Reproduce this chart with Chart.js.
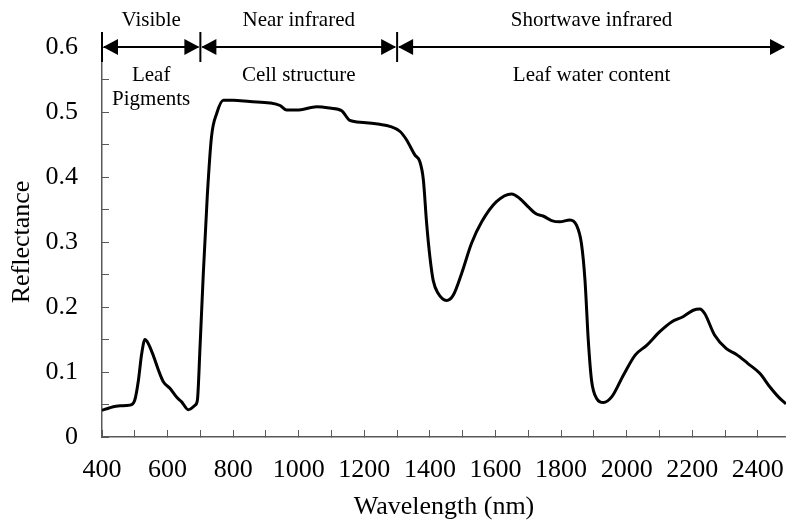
<!DOCTYPE html>
<html>
<head>
<meta charset="utf-8">
<script src="https://cdn.jsdelivr.net/npm/chart.js@4.4.0/dist/chart.umd.min.js"></script>
<style>
  html, body { margin: 0; padding: 0; background: #fff; overflow: hidden; }
  #wrap { width: 786px; height: 521px; }
</style>
</head>
<body>
<div id="wrap"><canvas id="c" width="786" height="521"></canvas></div>
<script>
// ---- Data ----
const wavelength = [400,424,455,485,500,511,521,531,541,556,572,587,607,628,643,663,684,691,699,709,721,734,750,770,800,851,912,943,963,994,1055,1095,1131,1156,1197,1247,1278,1309,1329,1354,1369,1380,1390,1400,1410,1425,1451,1471,1497,1527,1558,1603,1649,1674,1700,1725,1745,1771,1796,1827,1847,1862,1873,1883,1893,1909,1929,1955,1990,2026,2061,2101,2137,2172,2203,2223,2238,2268,2304,2335,2370,2406,2437,2468,2486];
const reflectance = [0.041,0.045,0.048,0.049,0.057,0.087,0.128,0.150,0.144,0.126,0.103,0.085,0.075,0.061,0.054,0.042,0.049,0.057,0.139,0.252,0.370,0.462,0.498,0.518,0.518,0.516,0.514,0.510,0.503,0.503,0.508,0.506,0.502,0.487,0.484,0.481,0.478,0.470,0.457,0.434,0.424,0.396,0.329,0.277,0.241,0.221,0.210,0.218,0.252,0.298,0.331,0.362,0.374,0.367,0.354,0.343,0.340,0.333,0.331,0.334,0.326,0.298,0.241,0.149,0.087,0.059,0.053,0.062,0.095,0.126,0.141,0.162,0.177,0.185,0.195,0.197,0.190,0.157,0.136,0.127,0.113,0.098,0.077,0.059,0.051];

const xTickLabels = ['400','600','800','1000','1200','1400','1600','1800','2000','2200','2400'];
const yTickLabels = ['0','0.1','0.2','0.3','0.4','0.5','0.6'];

// Spectral regions
const regionBounds = [400, 700, 1300, 2500];
const regionNames = ['Visible', 'Near infrared', 'Shortwave infrared'];
const regionRoles = [['Leaf', 'Pigments'], ['Cell structure'], ['Leaf water content']];

const FONT = '"Liberation Serif", "Times New Roman", serif';
const AXIS_COLOR = '#595959';

const regionPlugin = {
  id: 'regions',
  afterDraw(chart) {
    const ctx = chart.ctx;
    const xs = chart.scales.x, ys = chart.scales.y;
    const area = chart.chartArea;
    const yA = ys.getPixelForValue(0.6);
    const headL = 15, headH = 8, barH = 15;
    ctx.save();
    ctx.strokeStyle = '#000';
    ctx.fillStyle = '#000';
    ctx.lineWidth = 2;
    for (let i = 0; i < regionBounds.length - 1; i++) {
      const px = xs.getPixelForValue(regionBounds[i]);
      ctx.beginPath();
      ctx.moveTo(px, yA - barH);
      ctx.lineTo(px, yA + barH);
      ctx.stroke();
    }
    for (let i = 0; i < regionNames.length; i++) {
      const x0 = xs.getPixelForValue(regionBounds[i]);
      const x1 = Math.min(xs.getPixelForValue(regionBounds[i + 1]), area.right);
      ctx.lineWidth = 2;
      ctx.beginPath();
      ctx.moveTo(x0 + 2, yA);
      ctx.lineTo(x1 - 2, yA);
      ctx.stroke();
      ctx.beginPath();
      ctx.moveTo(x0 + 1, yA);
      ctx.lineTo(x0 + 1 + headL, yA - headH);
      ctx.lineTo(x0 + 1 + headL, yA + headH);
      ctx.closePath();
      ctx.fill();
      ctx.beginPath();
      ctx.moveTo(x1 - 1, yA);
      ctx.lineTo(x1 - 1 - headL, yA - headH);
      ctx.lineTo(x1 - 1 - headL, yA + headH);
      ctx.closePath();
      ctx.fill();
      const cx = (x0 + x1) / 2;
      ctx.font = '21px ' + FONT;
      ctx.textAlign = 'center';
      ctx.textBaseline = 'middle';
      ctx.fillText(regionNames[i], cx, yA - 27);
      regionRoles[i].forEach((t, j) => {
        ctx.fillText(t, cx, yA + 28 + j * 24);
      });
    }
    ctx.restore();
  }
};

const points = wavelength.map((w, i) => ({ x: w, y: reflectance[i] }));

new Chart(document.getElementById('c'), {
  type: 'line',
  data: {
    datasets: [{
      data: points,
      borderColor: '#000',
      borderWidth: 3,
      pointRadius: 0,
      fill: false,
      cubicInterpolationMode: 'monotone',
      tension: 0.4
    }]
  },
  options: {
    responsive: false,
    animation: false,
    devicePixelRatio: 1,
    layout: { padding: { top: 47, left: 0, right: 0, bottom: 0 } },
    plugins: { legend: { display: false }, tooltip: { enabled: false } },
    scales: {
      x: {
        type: 'linear',
        min: 400,
        max: 2486,
        afterFit(scale) { scale.height = 84; scale.paddingLeft = 0; scale.paddingRight = 0; },
        border: { display: true, color: AXIS_COLOR, width: 1.5 },
        grid: { drawOnChartArea: false, drawTicks: true, tickLength: -7, tickColor: AXIS_COLOR, tickWidth: 1 },
        ticks: {
          stepSize: 100,
          includeBounds: false,
          autoSkip: false,
          maxRotation: 0,
          padding: 25,
          color: '#000',
          font: { family: FONT, size: 26 },
          callback(v) {
            const k = (v - 400) / 200;
            return Number.isInteger(k) ? xTickLabels[k] : '';
          }
        },
        title: {
          display: true,
          text: 'Wavelength (nm)',
          color: '#000',
          font: { family: FONT, size: 26 },
          padding: { top: 0, bottom: -2 }
        }
      },
      y: {
        type: 'linear',
        min: 0,
        max: 0.6,
        afterFit(scale) { scale.width = 102; scale.paddingTop = 0; scale.paddingBottom = 0; },
        border: { display: true, color: AXIS_COLOR, width: 1.5 },
        grid: { drawOnChartArea: false, drawTicks: true, tickLength: -7, tickColor: AXIS_COLOR, tickWidth: 1 },
        ticks: {
          stepSize: 0.05,
          autoSkip: false,
          padding: 31,
          color: '#000',
          font: { family: FONT, size: 26 },
          callback(v) {
            const k = Math.round(v * 20);
            return k % 2 === 0 ? yTickLabels[k / 2] : '';
          }
        },
        title: {
          display: true,
          text: 'Reflectance',
          color: '#000',
          font: { family: FONT, size: 26 },
          padding: { top: 7, bottom: 0 }
        }
      }
    }
  },
  plugins: [regionPlugin]
});
</script>
</body>
</html>
